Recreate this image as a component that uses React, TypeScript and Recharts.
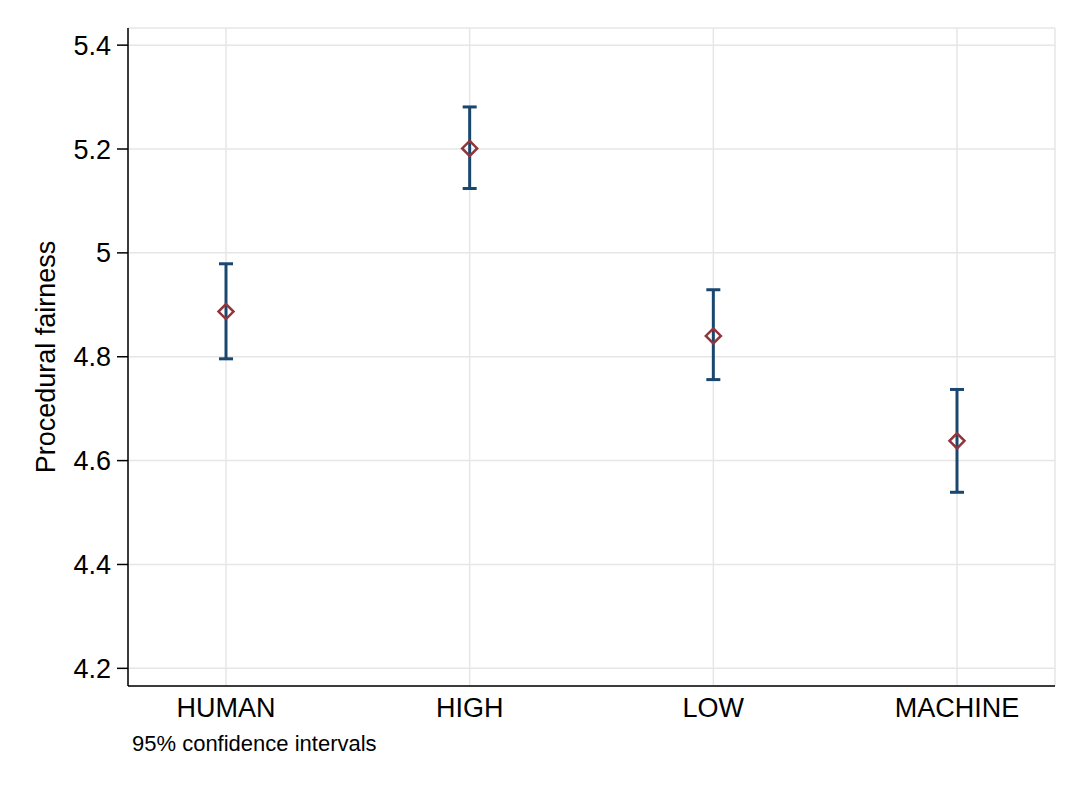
import React from 'react';
import { CartesianGrid, ComposedChart, ErrorBar, Scatter, XAxis, YAxis } from 'recharts';

const categories = ['HUMAN', 'HIGH', 'LOW', 'MACHINE'];
const means = [4.887, 5.201, 4.84, 4.638];
const lowerCI = [4.796, 5.124, 4.756, 4.539];
const upperCI = [4.979, 5.281, 4.929, 4.737];
const yTicks = [4.2, 4.4, 4.6, 4.8, 5, 5.2, 5.4];

const NAVY = '#1a476f';
const MAROON = '#90353b';
const GRID = '#e6e6e6';
const FONT = "'Liberation Sans', Arial, Helvetica, sans-serif";

const data = categories.map((cat, i) => ({
  cat,
  mean: means[i],
  err: [means[i] - lowerCI[i], upperCI[i] - means[i]],
}));

// hollow diamond marker, Stata style
function Diamond(props: any) {
  const { cx, cy } = props;
  const r = 7.5;
  return (
    <path
      d={`M${cx},${cy - r} L${cx + r},${cy} L${cx},${cy + r} L${cx - r},${cy} Z`}
      fill="none"
      stroke={MAROON}
      strokeWidth={2.5}
    />
  );
}

export default function App() {
  return (
    <div
      style={{
        position: 'absolute',
        left: 0,
        top: 0,
        width: 1083,
        height: 787,
        background: '#fff',
        fontFamily: FONT,
        color: '#000',
      }}
    >
      <ComposedChart
        width={1083}
        height={787}
        data={data}
        margin={{ top: 28, right: 28, bottom: 61, left: 0 }}
        style={{ fontFamily: FONT }}
      >
        <CartesianGrid stroke={GRID} strokeWidth={1.5} />
        <XAxis
          dataKey="cat"
          type="category"
          scale="point"
          padding={{ left: 98, right: 98 }}
          height={40}
          tickLine={false}
          tickSize={0}
          tickMargin={12}
          axisLine={{ stroke: '#000', strokeWidth: 1.5 }}
          tick={{ fontSize: 27, fill: '#000' }}
        />
        <YAxis
          type="number"
          domain={[4.166, 5.433]}
          ticks={yTicks}
          allowDataOverflow
          width={128}
          tickSize={11}
          tickMargin={6}
          tickLine={{ stroke: '#000', strokeWidth: 1.5 }}
          axisLine={{ stroke: '#000', strokeWidth: 1.5 }}
          tick={{ fontSize: 27, fill: '#000' }}
        />
        <Scatter dataKey="mean" shape={<Diamond />} isAnimationActive={false}>
          <ErrorBar
            dataKey="err"
            direction="y"
            width={7}
            stroke={NAVY}
            strokeWidth={3}
            isAnimationActive={false}
          />
        </Scatter>
      </ComposedChart>
      <div
        style={{
          position: 'absolute',
          left: 46 - 200,
          top: 357 - 15,
          width: 400,
          height: 30,
          lineHeight: '30px',
          fontSize: 27,
          textAlign: 'center',
          transform: 'rotate(-90deg)',
          whiteSpace: 'nowrap',
        }}
      >
        Procedural fairness
      </div>
      <div
        style={{
          position: 'absolute',
          left: 132,
          top: 733,
          fontSize: 22,
          lineHeight: '21px',
          whiteSpace: 'nowrap',
        }}
      >
        95% confidence intervals
      </div>
    </div>
  );
}
